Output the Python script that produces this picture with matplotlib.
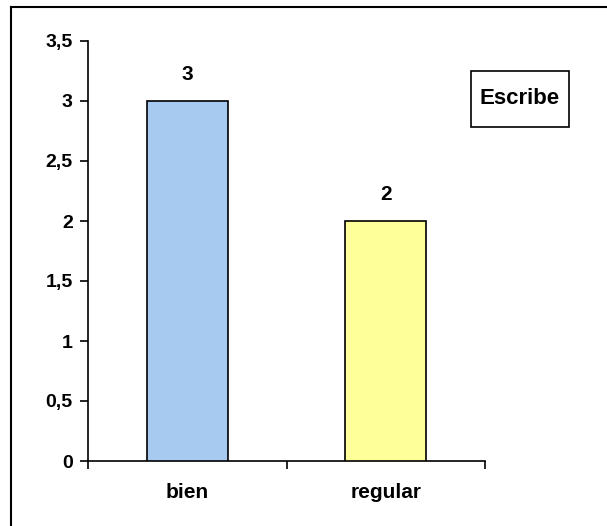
import matplotlib
matplotlib.use("Agg")
import matplotlib.pyplot as plt
from matplotlib.lines import Line2D
from matplotlib.patches import Rectangle

categories = ["bien", "regular"]
values = [3, 2]
colors = ["#A6CAF0", "#FFFF99"]
series_name = "Escribe"
yticks = [0, 0.5, 1, 1.5, 2, 2.5, 3, 3.5]

plt.rcParams['font.family'] = ['Liberation Sans', 'DejaVu Sans']
plt.rcParams['font.weight'] = 'bold'

W, H = 607, 526
fig = plt.figure(figsize=(W/100, H/100), dpi=100)
ax = fig.add_axes([88/W, 1-461/H, (485-88)/W, (461-41)/H])

x = list(range(len(categories)))
ax.bar(x, values, width=0.41, color=colors, edgecolor="black", linewidth=1.2, zorder=3)
for xi, v in zip(x, values):
    ax.text(xi, v + 0.14, f"{v}", ha="center", va="bottom", fontsize=15, fontweight="bold")

ax.set_xlim(-0.5, len(categories) - 0.5)
ax.set_ylim(0, 3.5)
ax.set_yticks(yticks)
ax.set_yticklabels([f"{t:g}".replace(".", ",") for t in yticks], fontsize=14, fontweight="bold")
ax.set_xticks([i - 0.5 for i in range(len(categories) + 1)])
ax.set_xticklabels([])
ax.set_xticks(x, minor=True)
ax.set_xticklabels(categories, minor=True, fontsize=15, fontweight="bold")
ax.tick_params(axis="x", which="minor", length=0, pad=16)
ax.tick_params(axis="x", which="major", direction="out", length=6, width=1.2)
ax.tick_params(axis="y", direction="out", length=6, width=1.2, pad=5)
for s in ["top", "right"]:
    ax.spines[s].set_visible(False)
for s in ["left", "bottom"]:
    ax.spines[s].set_linewidth(1.2)

# outer frame (only left and top visible)
fig.add_artist(Line2D([11/W, 11/W], [0, 1-7/H], color="black", lw=1.5, transform=fig.transFigure))
fig.add_artist(Line2D([11/W, 1.0], [1-7/H, 1-7/H], color="black", lw=1.5, transform=fig.transFigure))

# legend box
fig.add_artist(Rectangle((471/W, 1-127/H), (569-471)/W, (127-71)/H, transform=fig.transFigure,
                         facecolor="white", edgecolor="black", lw=1.2))
fig.text(520/W, 1-99/H, series_name, ha="center", va="center", fontsize=16, fontweight="bold")

fig.savefig("out.png", dpi=100)
